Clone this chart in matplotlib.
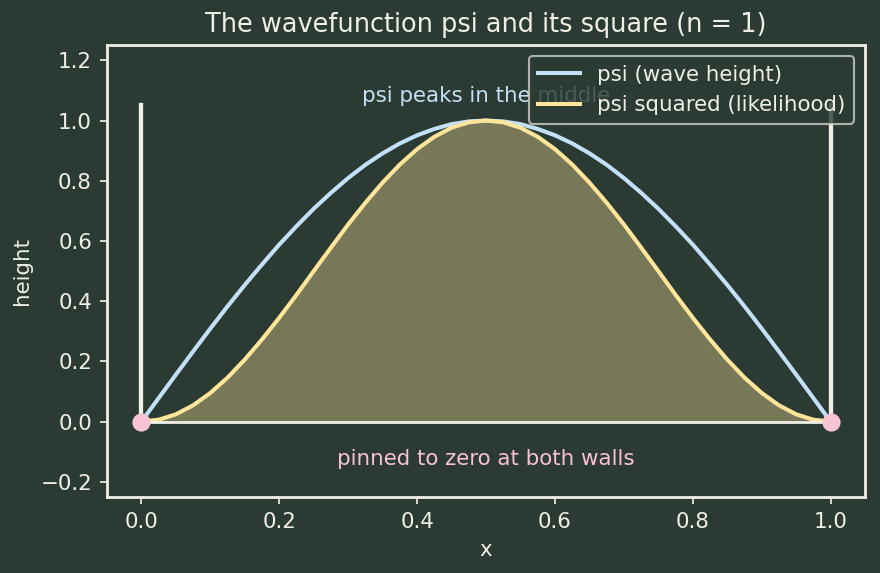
import matplotlib
matplotlib.use("Agg")
import matplotlib.pyplot as plt

# values, x in steps of 0.025
x = [0.0, 0.025, 0.05, 0.075, 0.1, 0.125, 0.15, 0.175, 0.2, 0.225, 0.25,
     0.275, 0.3, 0.325, 0.35, 0.375, 0.4, 0.425, 0.45, 0.475, 0.5,
     0.525, 0.55, 0.575, 0.6, 0.625, 0.65, 0.675, 0.7, 0.725, 0.75,
     0.775, 0.8, 0.825, 0.85, 0.875, 0.9, 0.925, 0.95, 0.975, 1.0]
psi = [0.0, 0.078, 0.156, 0.233, 0.309, 0.383, 0.454, 0.522, 0.588, 0.649, 0.707,
       0.760, 0.809, 0.853, 0.891, 0.924, 0.951, 0.972, 0.988, 0.997, 1.0,
       0.997, 0.988, 0.972, 0.951, 0.924, 0.891, 0.853, 0.809, 0.760, 0.707,
       0.649, 0.588, 0.522, 0.454, 0.383, 0.309, 0.233, 0.156, 0.078, 0.0]
psi_sq = [0.0, 0.006, 0.024, 0.054, 0.095, 0.146, 0.206, 0.273, 0.345, 0.421, 0.5,
          0.578, 0.655, 0.727, 0.794, 0.854, 0.905, 0.946, 0.976, 0.994, 1.0,
          0.994, 0.976, 0.946, 0.905, 0.854, 0.794, 0.727, 0.655, 0.578, 0.5,
          0.421, 0.345, 0.273, 0.206, 0.146, 0.095, 0.054, 0.024, 0.006, 0.0]
walls_x = [0.0, 1.0]
wall_top = 1.05

bg = "#2b3b33"
fg = "#f0efe6"
blue = "#c2e0f7"
yellow = "#ffe59a"
pink = "#f8c3d3"

dpi = 154
fig, ax = plt.subplots(figsize=(880 / dpi, 573 / dpi), dpi=dpi)
fig.patch.set_facecolor(bg)
ax.set_facecolor(bg)

ax.fill_between(x, psi_sq, color=yellow, alpha=0.36, linewidth=0)
ax.plot(x, psi, color=blue, lw=1.9, label="psi (wave height)", solid_joinstyle="round")
ax.plot(x, psi_sq, color=yellow, lw=1.9, label="psi squared (likelihood)", solid_joinstyle="round")
ax.plot(walls_x, [0, 0], color=fg, lw=1.3)
for w in walls_x:
    ax.plot([w, w], [0, wall_top], color=fg, lw=2.0)
ax.plot(walls_x, [0, 0], "o", color=pink, ms=7.5, zorder=5)

ax.text(0.5, 1.08, "psi peaks in the middle", color=blue, ha="center",
        va="center", fontsize=10)
ax.text(0.5, -0.123, "pinned to zero at both walls", color=pink, ha="center",
        va="center", fontsize=10)

ax.set_xlim(-0.05, 1.05)
ax.set_ylim(-0.25, 1.25)
ax.set_title("The wavefunction psi and its square (n = 1)", color=fg, fontsize=12)
ax.set_xlabel("x", color=fg, fontsize=10)
ax.set_ylabel("height", color=fg, fontsize=10)
ax.tick_params(colors=fg, labelsize=10)
for s in ax.spines.values():
    s.set_color(fg)
    s.set_linewidth(1.3)

leg = ax.legend(loc="upper right", fontsize=10, facecolor=bg, edgecolor="#cfcfc8",
                framealpha=0.8, labelcolor=fg)

fig.subplots_adjust(left=0.1216, right=0.983, top=0.921, bottom=0.133)
fig.savefig("out.png", facecolor=bg)
